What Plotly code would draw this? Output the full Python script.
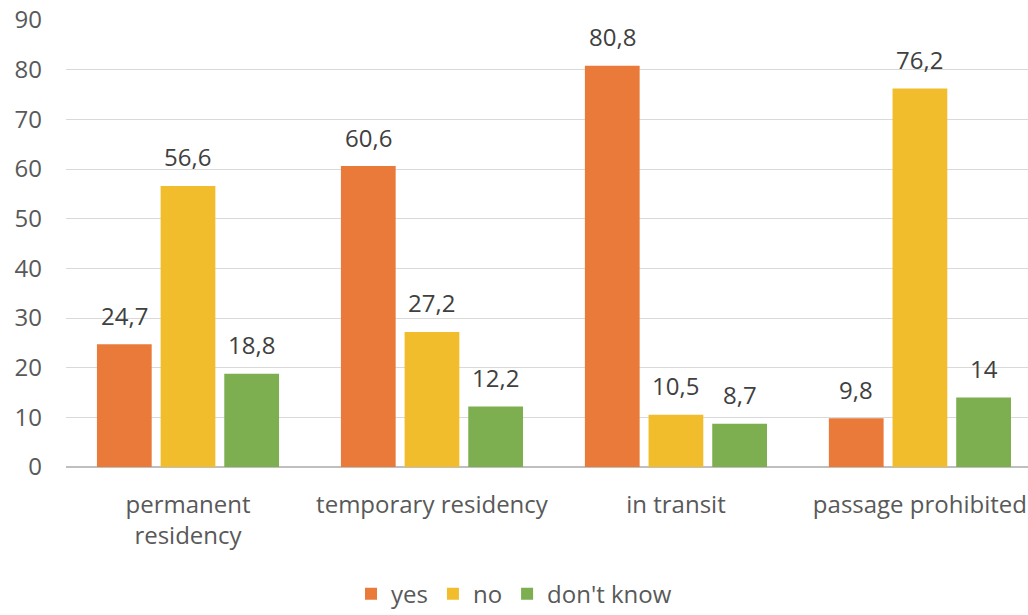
import plotly.graph_objects as go

categories = ["permanent<br>residency", "temporary residency", "in transit", "passage prohibited"]
yes_vals = [24.7, 60.6, 80.8, 9.8]
no_vals = [56.6, 27.2, 10.5, 76.2]
dont_know_vals = [18.8, 12.2, 8.7, 14]
series_names = ["yes", "no", "don't know"]
y_ticks = [0, 10, 20, 30, 40, 50, 60, 70, 80, 90]

colors = ["#EA7A3A", "#F2BD2C", "#7DAE50"]
font_family = "Open Sans, Noto Sans, sans-serif"
text_color = "#595959"
label_color = "#404040"

BARGAP = 0.217
series = [yes_vals, no_vals, dont_know_vals]

fig = go.Figure()
for name, vals, col in zip(series_names, series, colors):
    fig.add_trace(go.Bar(
        name=name,
        x=categories,
        y=vals,
        marker=dict(color=col, line=dict(width=0)),
    ))

# value labels above each bar, centred on the bar's slot within its group
slot = (1 - BARGAP) / len(series)
annotations = []
for k, vals in enumerate(series):
    offset = (k - (len(series) - 1) / 2) * slot
    for i, v in enumerate(vals):
        annotations.append(dict(
            x=i + offset, y=v, xref="x", yref="y",
            text=f"{v:g}".replace(".", ","),
            showarrow=False, yanchor="middle", yshift=29,
            font=dict(size=24, color=label_color, family=font_family),
        ))

fig.update_layout(
    width=1028,
    height=615,
    barmode="group",
    bargap=BARGAP,
    bargroupgap=0.14,
    plot_bgcolor="white",
    paper_bgcolor="white",
    margin=dict(l=66, r=0, t=20, b=148),
    font=dict(family=font_family, size=24, color=text_color),
    annotations=annotations,
    showlegend=True,
    legend=dict(
        orientation="h",
        xref="container",
        x=0.5,
        xanchor="center",
        yref="container",
        y=0.034,
        yanchor="middle",
        font=dict(size=24, color=text_color),
        itemwidth=30,
        traceorder="normal",
    ),
)

fig.update_xaxes(
    range=[-0.5, 3.443],
    showgrid=False,
    ticks="",
    tickfont=dict(size=24, color=text_color),
    ticklabelstandoff=21,
    showline=False,
)
fig.update_yaxes(
    range=[0, 90],
    tickvals=y_ticks,
    showgrid=True,
    gridcolor="#D9D9D9",
    gridwidth=1,
    zeroline=True,
    zerolinecolor="#BFBFBF",
    zerolinewidth=2,
    tickfont=dict(size=24, color=text_color),
    ticklabelstandoff=23,
    showline=False,
)

fig.write_html("out.html")
